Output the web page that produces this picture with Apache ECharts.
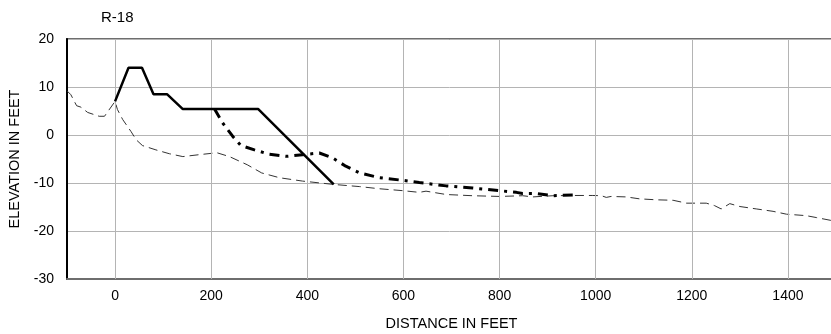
<!DOCTYPE html>
<html>
<head>
<meta charset="utf-8">
<script src="https://cdn.jsdelivr.net/npm/echarts@6/dist/echarts.min.js"></script>
<style>
html,body{margin:0;padding:0;background:#fff;}
#chart{width:831px;height:334px;}
</style>
</head>
<body>
<div id="chart"></div>
<script>
// ---- data ----
const titleText = 'R-18';
const xAxisName = 'DISTANCE IN FEET';
const yAxisName = 'ELEVATION IN FEET';
const xGridValues = [0, 200, 400, 600, 800, 1000, 1200, 1400];

// existing profile (thin dashed)
const existingX = [-100,-92,-80,-71,-57,-33,-22,0,5,16,33,44,57,85,113,141,175,212,238,275,305,342,390,455,509,550,599,633,647,689,744,800,848,869,911,953,994,1012,1022,1032,1064,1091,1126,1161,1189,1230,1247,1261,1279,1300,1334,1369,1397,1438,1459,1490];
const existingY = [9.2,8.4,6.1,5.8,4.7,3.9,3.9,7.0,5.3,3.2,0.75,-1.0,-2.2,-3.1,-3.9,-4.5,-4.1,-3.7,-4.5,-6.2,-7.9,-8.9,-9.6,-10.3,-10.75,-11.2,-11.6,-11.95,-11.7,-12.4,-12.65,-12.8,-12.65,-12.9,-12.65,-12.6,-12.6,-12.65,-13.0,-12.8,-12.9,-13.3,-13.5,-13.6,-14.2,-14.2,-14.7,-15.4,-14.3,-14.9,-15.4,-15.9,-16.5,-16.8,-17.2,-17.8];

// design profile (solid)
const designX = [0,28,56,80,108,141,298,455];
const designY = [7,14,14,8.5,8.5,5.4,5.4,-10.3];

// equilibrated profile (dash-dot)
const eqX = [207,224,245,262,290,321,356,390,425,453,480,509,550,599,633,689,744,800,835,848,876,911,953];
const eqY = [5.4,2.5,-0.3,-2.2,-3.1,-4.0,-4.45,-4.1,-3.75,-4.8,-6.5,-7.9,-8.9,-9.45,-9.9,-10.6,-11.05,-11.6,-11.95,-12.2,-12.2,-12.65,-12.5];

const zip = (xs, ys) => xs.map((x, i) => [x, ys[i]]);

const font = '"Liberation Sans", Arial, sans-serif';
const chart = echarts.init(document.getElementById('chart'), null, {renderer: 'canvas'});
chart.setOption({
  animation: false,
  backgroundColor: '#fff',
  title: {
    text: titleText, left: 96, top: 5,
    textStyle: {fontFamily: font, fontSize: 15, fontWeight: 'normal', color: '#000'}
  },
  grid: {
    left: 67, top: 39, width: 769, height: 240,
    outerBoundsMode: 'none', containLabel: false,
    show: true, borderColor: '#6e6e6e', borderWidth: 2, backgroundColor: 'transparent'
  },
  xAxis: {
    type: 'value', min: -100, max: 1500, interval: 100,
    name: xAxisName, nameLocation: 'middle', nameGap: 37,
    nameTextStyle: {fontFamily: font, fontSize: 14.5, color: '#000'},
    axisLine: {show: true, onZero: false, lineStyle: {color: '#6e6e6e', width: 2}},
    axisTick: {show: false},
    splitLine: {show: false},
    axisLabel: {
      fontFamily: font, fontSize: 14, color: '#000', margin: 10,
      formatter: v => (v % 200 === 0 && v >= 0 && v <= 1400) ? String(v) : ''
    }
  },
  yAxis: {
    type: 'value', min: -30, max: 20, interval: 10,
    name: yAxisName, nameLocation: 'middle', nameGap: 42, nameRotate: 90,
    nameTextStyle: {fontFamily: font, fontSize: 14.5, color: '#000'},
    axisLine: {show: true, onZero: false, lineStyle: {color: '#000', width: 2}},
    axisTick: {show: false},
    splitLine: {show: true, lineStyle: {color: '#b4b4b4', width: 1}},
    axisLabel: {fontFamily: font, fontSize: 14, color: '#000', margin: 13}
  },
  series: [
    {
      type: 'line', data: [], z: 1, silent: true,
      markLine: {
        silent: true, symbol: ['none', 'none'], label: {show: false},
        lineStyle: {color: '#b4b4b4', width: 1, type: 'solid'},
        data: xGridValues.map(v => ({xAxis: v}))
      }
    },
    {
      type: 'line', data: zip(existingX, existingY), z: 3,
      showSymbol: false, symbol: 'none', smooth: false,
      lineStyle: {color: '#333', width: 1, type: [9, 5]}
    },
    {
      type: 'line', data: zip(eqX, eqY), z: 4,
      showSymbol: false, symbol: 'none',
      lineStyle: {color: '#000', width: 3, type: [10, 6, 3, 6]}
    },
    {
      type: 'line', data: zip(designX, designY), z: 5,
      showSymbol: false, symbol: 'none',
      lineStyle: {color: '#000', width: 2.5, type: 'solid'}
    }
  ]
});
</script>
</body>
</html>
